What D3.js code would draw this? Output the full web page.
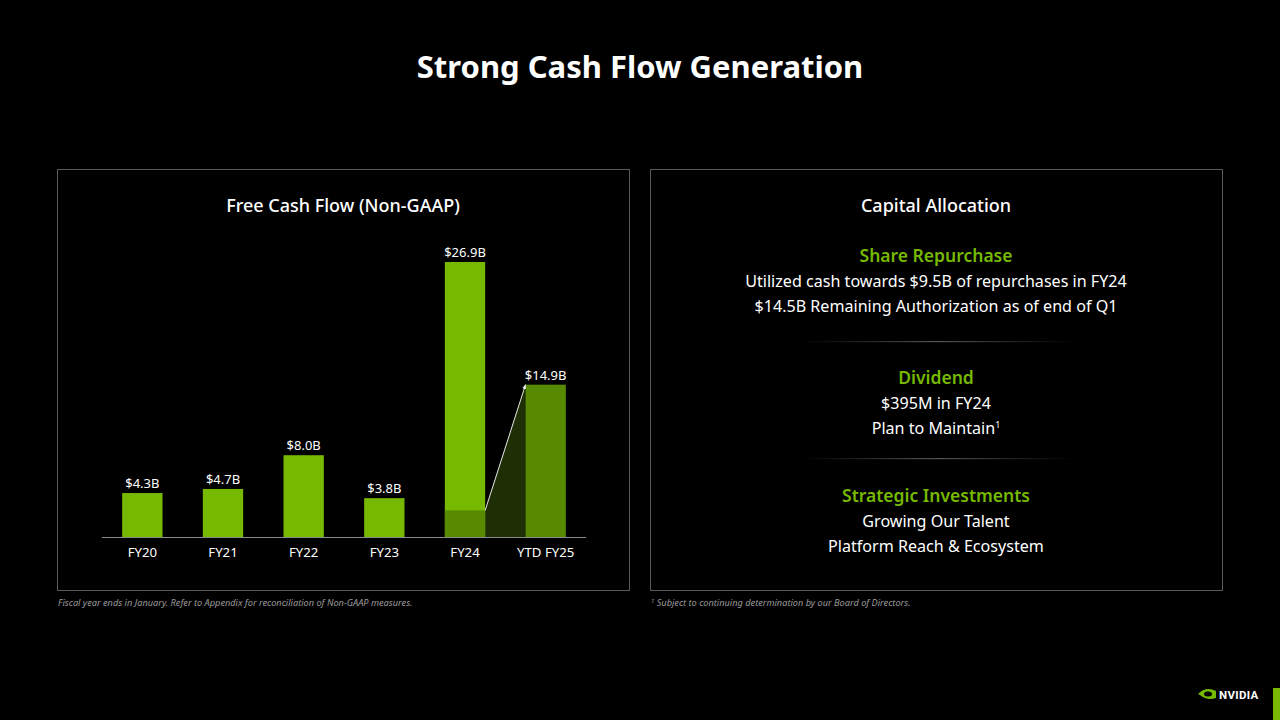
<!DOCTYPE html>
<html><head><meta charset="utf-8">
<script src="https://cdn.jsdelivr.net/npm/d3@7"></script>
<style>
html,body{margin:0;padding:0;background:#000;}
svg{display:block;font-family:"Noto Sans","Open Sans",sans-serif;}
</style></head>
<body>
<script>
const categories = ["FY20","FY21","FY22","FY23","FY24","YTD FY25"];
const fcfValues = [4.3, 4.7, 8.0, 3.8, 26.9, 14.9];
const valueLabels = ["$4.3B","$4.7B","$8.0B","$3.8B","$26.9B","$14.9B"];
const q1FY24Value = 2.6; // comparable Q1 FY24 portion
const allocSections = [
  {head:"Share Repurchase", lines:["Utilized cash towards $9.5B of repurchases in FY24","$14.5B Remaining Authorization as of end of Q1"]},
  {head:"Dividend", lines:["$395M in FY24","Plan to Maintain"]},
  {head:"Strategic Investments", lines:["Growing Our Talent","Platform Reach & Ecosystem"]}
];

const W=1280,H=720;
const svg=d3.select("body").append("svg").attr("width",W).attr("height",H);
svg.append("rect").attr("width",W).attr("height",H).attr("fill","#000");

const GREEN="#76b900", DKGREEN="#578a00", CONN="#1e2f05";

svg.append("text").attr("x",640).attr("y",78).attr("text-anchor","middle")
  .attr("fill","#fff").attr("font-size",31).attr("font-weight",700).text("Strong Cash Flow Generation");

// panels
[[57,169],[650,169]].forEach(([x,y])=>{
  svg.append("rect").attr("x",x+0.5).attr("y",y+0.5).attr("width",572).attr("height",421)
    .attr("fill","none").attr("stroke","#5a5a5a").attr("stroke-width",1);
});
svg.append("text").attr("x",343).attr("y",212).attr("text-anchor","middle").attr("fill","#fff")
  .attr("font-size",18).attr("font-weight",500).text("Free Cash Flow (Non-GAAP)");
svg.append("text").attr("x",936).attr("y",212).attr("text-anchor","middle").attr("fill","#fff")
  .attr("font-size",18).attr("font-weight",500).text("Capital Allocation");

// chart
const x=d3.scaleBand().domain(categories).range([102,586]).paddingInner(0.5).paddingOuter(0.25);
const y=d3.scaleLinear().domain([0,26.9]).range([537,262]);
const g=svg.append("g");

// connector polygon between FY24 Q1 and YTD FY25
const x24=x("FY24")+x.bandwidth(), x25=x("YTD FY25");
g.append("path").attr("d",`M${x24},${y(q1FY24Value)}L${x25},${y(fcfValues[5])}L${x25},${y(0)}L${x24},${y(0)}Z`)
  .attr("fill",CONN);

g.selectAll("rect.bar").data(categories).join("rect").attr("class","bar")
  .attr("x",d=>x(d)).attr("width",x.bandwidth())
  .attr("y",(d,i)=>y(fcfValues[i])).attr("height",(d,i)=>y(0)-y(fcfValues[i]))
  .attr("fill",(d,i)=>i===5?DKGREEN:GREEN);
// Q1 FY24 segment
g.append("rect").attr("x",x("FY24")).attr("width",x.bandwidth())
  .attr("y",y(q1FY24Value)).attr("height",y(0)-y(q1FY24Value)).attr("fill",DKGREEN);

// arrow
svg.append("defs").append("marker").attr("id","arr").attr("viewBox","0 0 10 10").attr("refX",9).attr("refY",5)
  .attr("markerWidth",5).attr("markerHeight",5).attr("orient","auto")
  .append("path").attr("d","M0,1L10,5L0,9Z").attr("fill","#e8e8e8");
g.append("line").attr("x1",x24).attr("y1",y(q1FY24Value)).attr("x2",x25).attr("y2",y(fcfValues[5]))
  .attr("stroke","#e8e8e8").attr("stroke-width",1).attr("marker-end","url(#arr)");

g.selectAll("text.val").data(categories).join("text").attr("class","val")
  .attr("x",d=>x(d)+x.bandwidth()/2).attr("y",(d,i)=>y(fcfValues[i])-5)
  .attr("text-anchor","middle").attr("fill","#fff").attr("font-size",13).text((d,i)=>valueLabels[i]);

const axis=g.append("g").attr("transform",`translate(0,${y(0)})`)
  .call(d3.axisBottom(x).tickSize(0).tickPadding(11));
axis.select(".domain").attr("stroke","#8a8a8a").attr("d","M102,0.5H586");
axis.selectAll("text").attr("fill","#fff").attr("font-size",13.2).attr("font-family",'"Noto Sans","Open Sans",sans-serif');

// right panel text
const sectY=[262,384,502];
allocSections.forEach((s,i)=>{
  const t0=sectY[i];
  svg.append("text").attr("x",936).attr("y",t0).attr("text-anchor","middle").attr("fill",GREEN)
    .attr("font-size",17.5).attr("font-weight",600).text(s.head);
  s.lines.forEach((l,j)=>{
    const t=svg.append("text").attr("x",936).attr("y",t0+25+j*24.5).attr("text-anchor","middle").attr("fill","#fff")
      .attr("font-size",16.1).text(l);
    if(i===1&&j===1) t.append("tspan").attr("font-size",9).attr("dy",-6).text("1");
  });
});
const lg=svg.select("defs").append("linearGradient").attr("id","sep");
lg.append("stop").attr("offset","0").attr("stop-color","#444").attr("stop-opacity",0);
lg.append("stop").attr("offset","0.5").attr("stop-color","#555");
lg.append("stop").attr("offset","1").attr("stop-color","#444").attr("stop-opacity",0);
[341,458].forEach(yy=>svg.append("rect").attr("x",800).attr("y",yy).attr("width",276).attr("height",1.2).attr("fill","url(#sep)"));

// footnotes
svg.append("text").attr("x",58).attr("y",606).attr("fill","#9a9a9a").attr("font-size",9.2).attr("font-style","italic")
  .text("Fiscal year ends in January. Refer to Appendix for reconciliation of Non-GAAP measures.");
const fn=svg.append("text").attr("x",651).attr("y",606).attr("fill","#9a9a9a").attr("font-size",9.2).attr("font-style","italic");
fn.append("tspan").attr("font-size",6).attr("dy",-3).text("1");
fn.append("tspan").attr("dy",3).text(" Subject to continuing determination by our Board of Directors.");

// logo
svg.append("rect").attr("x",1273).attr("y",688).attr("width",7).attr("height",32).attr("fill",GREEN);
const lgG=svg.append("g").attr("transform","translate(1198,687)");
lgG.append("path").attr("d","M0,7 Q8,-1 18,4 L18,11 Q9,14 2,8 Z").attr("fill",GREEN);
lgG.append("ellipse").attr("cx",10).attr("cy",7).attr("rx",4).attr("ry",2.5).attr("fill","#000");
lgG.append("text").attr("x",21).attr("y",11.5).attr("fill","#fff").attr("font-size",11.5).attr("font-weight",700)
  .attr("font-family","Roboto, sans-serif").attr("letter-spacing",0.3).text("NVIDIA");
</script>
</body></html>
